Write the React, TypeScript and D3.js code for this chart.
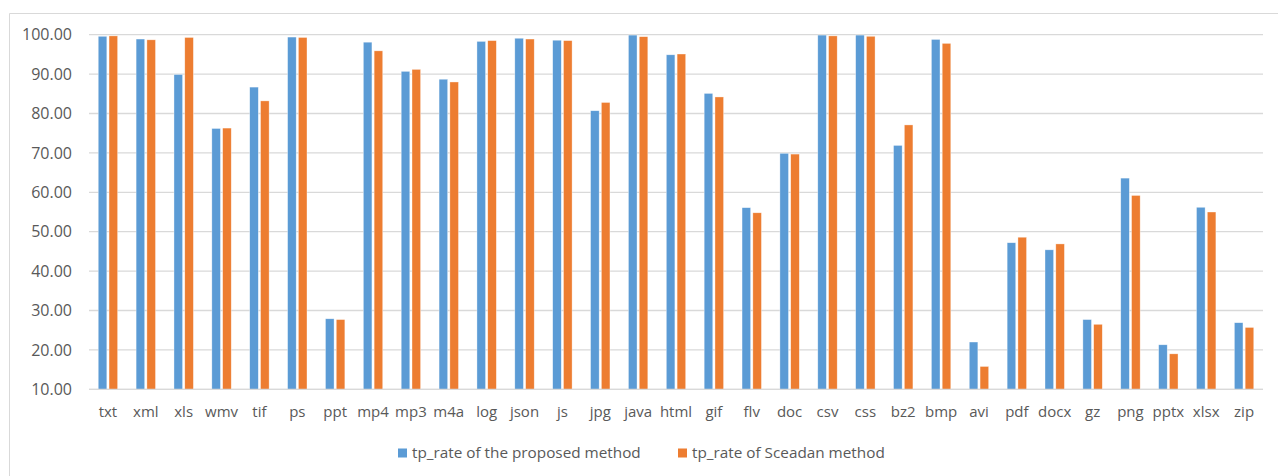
import React from "react";
import * as d3 from "d3";

// File types evaluated
const categories = [
  "txt", "xml", "xls", "wmv", "tif", "ps", "ppt", "mp4", "mp3", "m4a", "log",
  "json", "js", "jpg", "java", "html", "gif", "flv", "doc", "csv", "css", "bz2",
  "bmp", "avi", "pdf", "docx", "gz", "png", "pptx", "xlsx", "zip",
];

// tp_rate of the proposed method
const proposedRates = [
  99.6, 98.9, 89.9, 76.2, 86.7, 99.4, 27.9, 98.1, 90.7, 88.7, 98.3,
  99.1, 98.6, 80.7, 99.9, 94.9, 85.1, 56.1, 69.9, 99.9, 99.9, 71.9,
  98.8, 22.0, 47.2, 45.4, 27.7, 63.6, 21.3, 56.2, 26.9,
];

// tp_rate of Sceadan method
const sceadanRates = [
  99.7, 98.7, 99.3, 76.3, 83.2, 99.3, 27.7, 95.9, 91.2, 88.0, 98.5,
  98.9, 98.5, 82.8, 99.5, 95.1, 84.2, 54.8, 69.7, 99.7, 99.6, 77.1,
  97.8, 15.8, 48.6, 46.9, 26.5, 59.2, 19.0, 55.0, 25.7,
];

const yTicks = [10, 20, 30, 40, 50, 60, 70, 80, 90, 100];

const seriesNames = ["tp_rate of the proposed method", "tp_rate of Sceadan method"];
const seriesColors = ["#5B9BD5", "#ED7D31"];

const W = 1278;
const H = 476;
const FONT = "'Open Sans', 'Noto Sans', sans-serif";
const TEXT = "#595959";

export default function App() {
  const left = 89;
  const right = 1263;
  const top = 34.7;
  const bottom = 389.3;

  const x = d3.scaleBand<string>().domain(categories).range([left, right]).padding(0);
  const y = d3.scaleLinear().domain([10, 100]).range([bottom, top]);

  const barW = 8.6;
  const gap = 2.2;

  const series = [proposedRates, sceadanRates];

  return (
    <div style={{ position: "absolute", left: 0, top: 0 }}>
      <svg width={W} height={H} style={{ display: "block" }} fontFamily={FONT}>
        <rect x={0} y={0} width={W} height={H} fill="#fff" />
        {/* chart frame */}
        <path d={`M9.5,${H} V13.5 H${W}`} fill="none" stroke="#D9D9D9" strokeWidth={1} />

        {/* horizontal gridlines */}
        {yTicks.map((t) => (
          <line
            key={t}
            x1={left}
            x2={right}
            y1={y(t)}
            y2={y(t)}
            stroke="#D9D9D9"
            strokeWidth={1.3}
          />
        ))}

        {/* y tick labels */}
        {yTicks.map((t) => (
          <text
            key={t}
            x={72}
            y={y(t) + 5.6}
            textAnchor="end"
            fontSize={16}
            fill={TEXT}
          >
            {t.toFixed(2)}
          </text>
        ))}

        {/* bars */}
        {series.map((vals, si) =>
          vals.map((v, i) => {
            const cx = (x(categories[i]) as number) + x.bandwidth() / 2;
            const bx = si === 0 ? cx - gap / 2 - barW : cx + gap / 2;
            return (
              <rect
                key={`${si}-${i}`}
                x={bx}
                y={y(v)}
                width={barW}
                height={y(10) - y(v)}
                fill={seriesColors[si]}
                stroke="#fff"
                strokeOpacity={0.6}
                strokeWidth={0.6}
              />
            );
          })
        )}

        {/* baseline */}
        <line x1={left} x2={right} y1={bottom} y2={bottom} stroke="#D9D9D9" strokeWidth={1.3} />

        {/* category labels */}
        {categories.map((c) => (
          <text
            key={c}
            x={(x(c) as number) + x.bandwidth() / 2}
            y={417}
            textAnchor="middle"
            fontSize={15}
            fill={TEXT}
          >
            {c}
          </text>
        ))}

        {/* legend */}
        <rect x={398} y={448.5} width={9} height={9} fill={seriesColors[0]} />
        <text x={412} y={458} fontSize={15.3} fill={TEXT}>
          {seriesNames[0]}
        </text>
        <rect x={678} y={448.5} width={9} height={9} fill={seriesColors[1]} />
        <text x={692} y={458} fontSize={15.3} fill={TEXT}>
          {seriesNames[1]}
        </text>
      </svg>
    </div>
  );
}
